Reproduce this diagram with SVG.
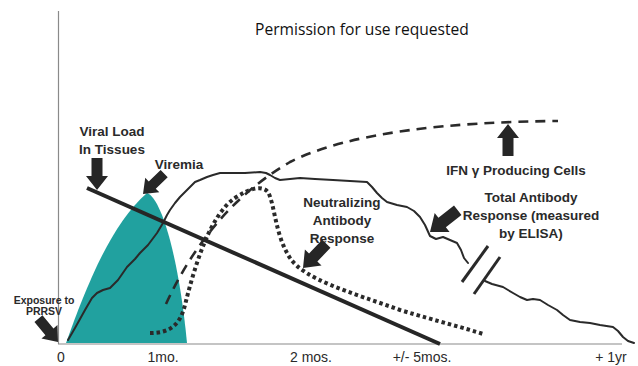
<svg xmlns="http://www.w3.org/2000/svg" width="638" height="366" viewBox="0 0 638 366">
<defs>
<style>
.axis{stroke:#8a8a8a;stroke-width:1.2;fill:none}
.lbl{font-family:"Liberation Sans",Arial,sans-serif;font-weight:bold;font-size:13.5px;fill:#2a2a2a;text-anchor:middle}
.tick{font-family:"Liberation Sans",Arial,sans-serif;font-size:14px;fill:#2a2a2a;text-anchor:middle}
.arrow{fill:#262626}
.curve{fill:none;stroke:#2a2a2a;stroke-linejoin:round;stroke-linecap:round}
.dash{fill:none;stroke:#2a2a2a;stroke-width:2.6;stroke-dasharray:10 7;stroke-linecap:butt}
.dots{fill:none;stroke:#2a2a2a;stroke-width:4;stroke-dasharray:3.5 3;stroke-linecap:butt}
</style>
<polygon id="blk" points="-32,-5.5 -14,-5.5 -14,-11 0,0 -14,11 -14,5.5 -32,5.5"/>
</defs>
<rect width="638" height="366" fill="#ffffff"/>
<text x="362" y="35" font-family="'Open Sans',sans-serif" font-size="15.6" fill="#111" text-anchor="middle">Permission for use requested</text>
<g id="axes">
<line class="axis" x1="58.5" y1="11" x2="58.5" y2="344"/>
<line class="axis" x1="58" y1="344" x2="622" y2="344"/>
</g>
<g id="viremia-area">
<path d="M66,343 C85,290 110,225 147,193 C160,197 178,250 187,343 Z" fill="#21a19f"/>
</g>
<g id="connectors">
<path class="curve" stroke-width="2" d="M68,340 L75,328 L85,310 L92,298 L97,293 L103,290 L110,288 L118,280 L127,267 L135,259 L140,253 L148,245 L157,233 L163,223 L167,215 L170,210 L175,203 L180,197 L185,192 L190,187 L195,182 L200,180 L207,177 L213,175 L220,173 L233,173 L245,173 L260,172 L266,173 L270,175 L275,178 L280,180 L290,179 L300,178 L315,179 L333,180 L350,181 L367,182 L372,187 L377,193 L382,198 L387,202 L397,205 L407,207 L414,211 L420,217 L425,225 L430,236 L436,239 L443,237 L450,240 L457,243 L461,250 L464,258 L468,263"/>
<path class="curve" stroke-width="2" d="M485,281 L492,284 L503,287 L508,290 L513,293 L520,297 L527,300 L533,299 L540,300 L548,305 L557,310 L563,315 L570,320 L580,322 L590,323 L600,325 L613,327 L618,331 L623,337 L628,341 L634,343"/>
<line x1="462" y1="282" x2="488" y2="246" stroke="#2a2a2a" stroke-width="3"/>
<line x1="474" y1="294" x2="500" y2="257" stroke="#2a2a2a" stroke-width="3"/>
<path class="dash" d="M166,304 C190,252 228,198 290,162 C350,132 450,122 558,121"/>
<path class="dots" d="M150,333 C170,333 180,325 185,305 C195,265 210,215 235,198 C250,188 262,185 268,192 C275,205 275,235 290,258 C305,280 350,292 400,310 C440,322 465,328 483,334"/>
<line x1="87" y1="188" x2="440" y2="344" stroke="#262626" stroke-width="4"/>
</g>
<g id="exposure">
<text class="lbl" x="44" y="304" style="font-size:10.5px">Exposure to</text>
<text class="lbl" x="44" y="315" style="font-size:10.5px">PRRSV</text>
<use href="#blk" class="arrow" transform="translate(58,342) rotate(50) scale(0.95)"/>
</g>
<g id="viral-load">
<text class="lbl" x="112" y="136">Viral Load</text>
<text class="lbl" x="112" y="154">In Tissues</text>
<use href="#blk" class="arrow" transform="translate(97,190) rotate(90)"/>
</g>
<g id="viremia">
<text class="lbl" x="179" y="169">Viremia</text>
<use href="#blk" class="arrow" transform="translate(143,194) rotate(136) scale(0.92)"/>
</g>
<g id="neutralizing">
<text class="lbl" x="342" y="207">Neutralizing</text>
<text class="lbl" x="342" y="225">Antibody</text>
<text class="lbl" x="342" y="243">Response</text>
<use href="#blk" class="arrow" transform="translate(303,268) rotate(134) scale(1.05)"/>
</g>
<g id="ifn">
<text class="lbl" x="516" y="175">IFN γ Producing Cells</text>
<use href="#blk" class="arrow" transform="translate(508,124) rotate(-90)"/>
</g>
<g id="total-antibody">
<text class="lbl" x="531" y="202">Total Antibody</text>
<text class="lbl" x="531" y="220">Response (measured</text>
<text class="lbl" x="531" y="238">by ELISA)</text>
<use href="#blk" class="arrow" transform="translate(430,232) rotate(142) scale(1.1)"/>
</g>
<g id="x-labels">
<text class="tick" x="61" y="362">0</text>
<text class="tick" x="163" y="362">1mo.</text>
<text class="tick" x="311" y="362">2 mos.</text>
<text class="tick" x="422" y="362">+/- 5mos.</text>
<text class="tick" x="611" y="362">+ 1yr</text>
</g>
</svg>
